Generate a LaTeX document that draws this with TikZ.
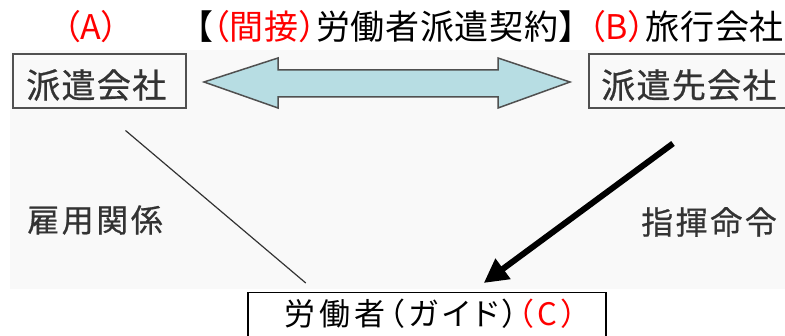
\documentclass[tikz,border=0pt]{standalone}
\usepackage{fontspec}
\setmainfont{Noto Sans CJK JP}[RawFeature=+palt]
\newfontfamily\topfont{Noto Sans CJK JP}[RawFeature=+palt,LetterSpace=2]
\newfontfamily\boxfont{Noto Sans CJK JP}[RawFeature=+palt,LetterSpace=4,FakeBold=0.6]
\newfontfamily\labfont{Noto Sans CJK JP}[RawFeature=+palt,LetterSpace=8,FakeBold=0.6]
\newfontfamily\botfont{Noto Sans CJK JP}[RawFeature=+palt,LetterSpace=13]
\usetikzlibrary{arrows.meta,calc}
\definecolor{arrowfill}{HTML}{B7DDE3}
\definecolor{boxtext}{HTML}{333333}
\definecolor{boxedge}{HTML}{505050}
\definecolor{bggrey}{HTML}{F9F9F9}
\definecolor{pureRed}{HTML}{FF0000}
\begin{document}
\begin{tikzpicture}[x=1pt,y=-1pt,
  company/.style={draw=boxedge,line width=2pt,minimum height=54pt,inner sep=0pt,text=boxtext,font=\boxfont\fontsize{34}{34}\selectfont},
  relabel/.style={text=boxtext,inner sep=0pt,font=\labfont\fontsize{32}{32}\selectfont},
  toptext/.style={inner sep=0pt,font=\topfont\fontsize{34}{34}\selectfont},
  worker/.style={draw=black,line width=1.5pt,inner sep=0pt,font=\botfont\fontsize{31}{31}\selectfont},
  thinline/.style={draw=boxtext,line width=1.2pt},
  command/.style={draw=black,line width=6pt,-{Triangle[length=24pt,width=24pt]}},
  contract/.style={draw=boxedge,line width=1.5pt,fill=arrowfill,line join=miter}]
\useasboundingbox (0,0) rectangle (785,336);
\clip (0,0) rectangle (785,336);
\fill[bggrey] (10,50) rectangle (785,289);
% boxes
\node[company,minimum width=173pt] (a) at (99.5,81.5) {};
\node[text=boxtext,inner sep=0pt,font=\boxfont\fontsize{34}{34}\selectfont,anchor=west] (atext) at (26,85) {派遣会社};
\node[company,minimum width=204pt,anchor=west] (b) at (588,81.5) {};
\node[text=boxtext,inner sep=0pt,font=\boxfont\fontsize{34}{34}\selectfont,anchor=west] (btext) at (601,85) {派遣先会社};
\node[worker,minimum width=358pt,minimum height=60pt,anchor=north west] (c) at (247,292) {};
\node[inner sep=0pt,font=\botfont\fontsize{31}{31}\selectfont,anchor=west] (ctext) at (284,314) {労働者（ガイド）\textcolor{pureRed}{（C）}};
% top texts
\node[toptext,text=pureRed] (ta) at (91,27) {（A）};
\node[toptext,anchor=west] (tk) at (195,27) {【\textcolor{pureRed}{（間接）}労働者派遣契約】};
\node[toptext,anchor=west] (tb) at (588,27) {\textcolor{pureRed}{（B）}旅行会社};
% labels
\node[relabel,anchor=west] (l1) at (27,220) {雇用関係};
\node[relabel,anchor=west] (l2) at (641,222) {指揮命令};
% double arrow between a and b
\coordinate (L) at ($(a.east)+(17,0.5)$);
\coordinate (R) at ($(b.west)+(-18,0.5)$);
\draw[contract] (L) -- ++(74,-24) -- ++(0,12) -- ($(R)+(-72,-12)$) -- ++(0,-12) -- (R)
  -- ++(-72,26) -- ++(0,-11) -- ($(L)+(74,15)$) -- ++(0,11) -- cycle;
% employment line
\coordinate (e1) at ($(a.south)+(26,21)$);
\coordinate (e2) at ($(c.north)+(-121,-9)$);
\draw[thinline] (e1) -- (e2);
% command arrow
\coordinate (k1) at ($(b.south)+(-18,34)$);
\coordinate (k2) at ($(c.north)+(57,-9)$);
\draw[command] (k1) -- (k2);
\end{tikzpicture}
\end{document}
